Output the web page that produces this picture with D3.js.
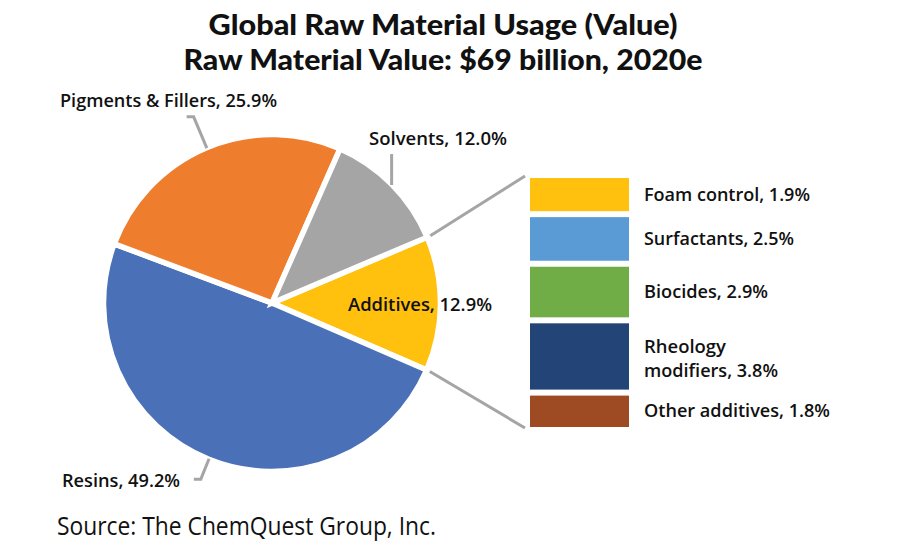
<!DOCTYPE html>
<html><head><meta charset="utf-8">
<script src="https://cdn.jsdelivr.net/npm/d3@7"></script>
<style>html,body{margin:0;padding:0;background:#fff}svg{display:block}text{font-family:"Open Sans",sans-serif;fill:#111}</style>
</head><body><svg id="c" width="900" height="550"></svg>
<script>
const titleLines = ["Global Raw Material Usage (Value)", "Raw Material Value: $69 billion, 2020e"];
const sourceText = "Source: The ChemQuest Group, Inc.";
const pieCategories = ["Additives", "Resins", "Pigments & Fillers", "Solvents"];
const pieValues = [12.9, 49.2, 25.9, 12.0];
const pieColors = ["#ffc00e", "#4a70b7", "#ef7d2e", "#a5a5a5"];
const additiveCategories = ["Foam control", "Surfactants", "Biocides", "Rheology modifiers", "Other additives"];
const additiveValues = [1.9, 2.5, 2.9, 3.8, 1.8];
const additiveColors = ["#ffc00e", "#5b9bd5", "#70ad47", "#224477", "#9e4a22"];

const svg = d3.select("#c");
const fit = (sel, w) => sel.attr("textLength", w).attr("lengthAdjust", "spacingAndGlyphs");

// titles
[[35, 469], [70, 519]].forEach(([y, w], i) => {
  svg.append("text").attr("x", 443).attr("y", y).attr("text-anchor", "middle")
    .style("font-family", "Lato, sans-serif")
    .attr("font-size", 28.5).attr("font-weight", 900).text(titleLines[i]).call(fit, w);
});

// pie
const cx = 272, cy = 303, R = 168.5;
const startAngle = 67 * Math.PI / 180;
const pie = d3.pie().sort(null).startAngle(startAngle).endAngle(startAngle + 2 * Math.PI);
const arcs = pie(pieValues);
const arc = d3.arc().innerRadius(0).outerRadius(R);
const g = svg.append("g").attr("transform", `translate(${cx},${cy})`);
g.selectAll("path").data(arcs).join("path")
  .attr("d", arc).attr("fill", (d, i) => pieColors[i])
  .attr("stroke", "#fff").attr("stroke-width", 5.5).attr("stroke-linejoin", "miter");

const pt = (a, r) => [r * Math.sin(a), -r * Math.cos(a)];
const mid = d => (d.startAngle + d.endAngle) / 2;
const leader = d3.line();
const leaderStyle = s => s.attr("fill", "none").attr("stroke", "#a5a5a5").attr("stroke-width", 3);

// slice callouts: [slice index, start radius, elbow radius, horizontal tail]
[[2, 168, 202, -7], [3, 168, 171, 0], [1, 168, 190, -7]].forEach(([i, r0, r1, tail]) => {
  const a = mid(arcs[i]);
  const p0 = pt(a, r0);
  let p1 = pt(a, r1);
  if (i === 3) p1 = [p0[0], p0[1] - 31];
  const pts = tail ? [p0, p1, [p1[0] + tail, p1[1]]] : [p0, p1];
  g.append("path").attr("d", leader(pts)).call(leaderStyle);
});

// stacked breakdown
const barX = 530, barW = 99, barTop = 178, gap = 6, barBottom = 427;
const total = d3.sum(additiveValues);
const h = d3.scaleLinear().domain([0, total]).range([0, barBottom - barTop - gap * (additiveValues.length - 1)]);
let yCur = barTop;
const bars = additiveValues.map((v, i) => {
  const b = { y: yCur, h: h(v), i };
  yCur += b.h + gap;
  return b;
});
svg.append("g").selectAll("rect").data(bars).join("rect")
  .attr("x", barX).attr("width", barW).attr("y", d => d.y).attr("height", d => d.h)
  .attr("fill", d => additiveColors[d.i]);

// zoom lines from the Additives slice edges to the stack
const rz = 172, leaderEndX = 525 - cx;
[[arcs[0].startAngle, barTop - 2 - cy], [arcs[0].endAngle, barBottom + 1 - cy]].forEach(([a, yEnd]) => {
  g.append("path").attr("d", leader([pt(a, rz), [leaderEndX, yEnd]])).call(leaderStyle);
});

// labels
const fs = 18.5;
const lab = (x, y, t, w, anchor) => svg.append("text").attr("x", x).attr("y", y)
  .attr("font-size", fs).attr("font-weight", 600).attr("text-anchor", anchor || "start").text(t).call(fit, w);
const pct = i => `${pieCategories[i]}, ${pieValues[i].toFixed(1)}%`;
lab(60, 107, pct(2), 217);
lab(369, 145, pct(3), 138);
lab(348, 311, pct(0), 144);
lab(62, 487, pct(1), 118);

const textWidths = [166, 150, 124, null, 186];
bars.forEach((b, i) => {
  const tx = 644, yc = b.y + b.h / 2;
  const s = `${additiveValues[i].toFixed(1)}%`;
  if (additiveCategories[i] === "Rheology modifiers") {
    const [w1, w2] = additiveCategories[i].split(" ");
    lab(tx, yc - 3, w1, 82);
    lab(tx, yc + 21, `${w2}, ${s}`, 134);
  } else {
    lab(tx, yc + 6, `${additiveCategories[i]}, ${s}`, textWidths[i]);
  }
});

svg.append("text").attr("x", 57).attr("y", 535).attr("font-size", 25).attr("font-weight", 400)
  .text(sourceText).call(fit, 379);
</script></body></html>
